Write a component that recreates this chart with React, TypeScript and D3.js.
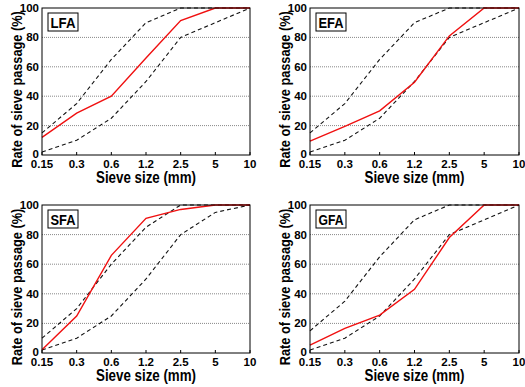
import { useEffect, useRef } from 'react';
import * as d3 from 'd3';

const sieveSizes = ['0.15', '0.3', '0.6', '1.2', '2.5', '5', '10'];
const yTicks = [0, 20, 40, 60, 80, 100];

// grading limits (dashed)
const stdUpper = [15, 35, 65, 90, 100, 100, 100];
const stdLower = [2, 10, 25, 50, 80, 90, 100];
const sfaUpper = [10, 30, 60, 85, 100, 100, 100];
const sfaLower = [2, 10, 25, 50, 80, 95, 100];

// measured passage (red)
const lfaValues = [12, 28.5, 40, 66, 91.5, 100, 100];
const efaValues = [9.5, 19.5, 30, 49.5, 81, 100, 100];
const sfaValues = [2.2, 25, 66, 91, 97, 100, 100];
const gfaValues = [5.4, 16.6, 25.6, 43, 78, 100, 100];

const panelNames = ['LFA', 'EFA', 'SFA', 'GFA'];

const FONT = '"Liberation Sans", Arial, Helvetica, sans-serif';

export default function App() {
  const svgRef = useRef<SVGSVGElement | null>(null);

  useEffect(() => {
    if (!svgRef.current) return;
    const svg = d3.select(svgRef.current);
    svg.selectAll('*').remove();

    const panels = [
      { name: panelNames[0], values: lfaValues, upper: stdUpper, lower: stdLower },
      { name: panelNames[1], values: efaValues, upper: stdUpper, lower: stdLower },
      { name: panelNames[2], values: sfaValues, upper: sfaUpper, lower: sfaLower },
      { name: panelNames[3], values: gfaValues, upper: stdUpper, lower: stdLower },
    ];

    const colLeft = [42, 310];
    const colRight = [250, 519];
    const rowTop = [8, 205];
    const rowBottom = [155, 353];

    panels.forEach((p, i) => {
      const col = i % 2;
      const row = Math.floor(i / 2);
      const l = colLeft[col];
      const r = colRight[col];
      const t = rowTop[row];
      const b = rowBottom[row];

      const x = d3.scalePoint<string>().domain(sieveSizes).range([l, r]);
      const y = d3.scaleLinear().domain([0, 100]).range([b, t]);

      const g = svg.append('g');

      // grid
      g.selectAll('line.grid')
        .data(yTicks.filter((v) => v > 0 && v < 100))
        .join('line')
        .attr('x1', l)
        .attr('x2', r)
        .attr('y1', (d) => y(d))
        .attr('y2', (d) => y(d))
        .attr('stroke', '#888')
        .attr('stroke-width', 1)
        .attr('stroke-dasharray', '1,1');

      // x ticks (inward)
      g.selectAll('line.xt')
        .data(sieveSizes)
        .join('line')
        .attr('x1', (d) => x(d)!)
        .attr('x2', (d) => x(d)!)
        .attr('y1', b)
        .attr('y2', b - 3)
        .attr('stroke', '#000');

      const line = d3
        .line<number>()
        .x((_, j) => x(sieveSizes[j])!)
        .y((d) => y(d));

      [p.upper, p.lower].forEach((lim) => {
        g.append('path')
          .attr('d', line(lim))
          .attr('fill', 'none')
          .attr('stroke', '#111')
          .attr('stroke-width', 1.1)
          .attr('stroke-dasharray', '4,3');
      });

      g.append('path')
        .attr('d', line(p.values))
        .attr('fill', 'none')
        .attr('stroke', '#f01010')
        .attr('stroke-width', 1.4);

      // frame
      g.append('rect')
        .attr('x', l)
        .attr('y', t)
        .attr('width', r - l)
        .attr('height', b - t)
        .attr('fill', 'none')
        .attr('stroke', '#000')
        .attr('stroke-width', 1);

      // tick labels
      g.selectAll('text.xl')
        .data(sieveSizes)
        .join('text')
        .attr('x', (d) => x(d)!)
        .attr('y', b + 12.5)
        .attr('text-anchor', 'middle')
        .attr('font-family', FONT)
        .attr('font-weight', 'bold')
        .attr('font-size', '11.5px')
        .text((d) => d);

      g.selectAll('text.yl')
        .data(yTicks)
        .join('text')
        .attr('x', l - 3)
        .attr('y', (d) => y(d) + (d === 0 ? 2.5 : 4))
        .attr('text-anchor', 'end')
        .attr('font-family', FONT)
        .attr('font-weight', 'bold')
        .attr('font-size', '11.5px')
        .text((d) => d);

      // axis titles
      g.append('text')
        .attr('x', (l + r) / 2)
        .attr('y', b + 28)
        .attr('text-anchor', 'middle')
        .attr('font-family', FONT)
        .attr('font-weight', 'bold')
        .attr('font-size', '16px')
        .attr('textLength', 100)
        .attr('lengthAdjust', 'spacingAndGlyphs')
        .text('Sieve size (mm)');

      g.append('text')
        .attr('transform', `translate(${l - 20},${(t + b) / 2 + 8}) rotate(-90) scale(0.85,1)`)
        .attr('text-anchor', 'middle')
        .attr('font-family', FONT)
        .attr('font-weight', 'bold')
        .attr('font-size', '15px')
        .text('Rate of sieve passage (%)');

      // panel label
      g.append('rect')
        .attr('x', l + 6)
        .attr('y', t + 5)
        .attr('width', 30)
        .attr('height', 18)
        .attr('fill', '#fff')
        .attr('stroke', '#000');

      g.append('text')
        .attr('x', l + 21)
        .attr('y', t + 19.5)
        .attr('text-anchor', 'middle')
        .attr('font-family', FONT)
        .attr('font-weight', 'bold')
        .attr('font-size', '15px')
        .attr('textLength', 25)
        .attr('lengthAdjust', 'spacingAndGlyphs')
        .text(p.name);
    });
  }, []);

  return (
    <svg
      ref={svgRef}
      width={525}
      height={387}
      style={{ position: 'absolute', left: 0, top: 0, background: '#fff' }}
    />
  );
}
